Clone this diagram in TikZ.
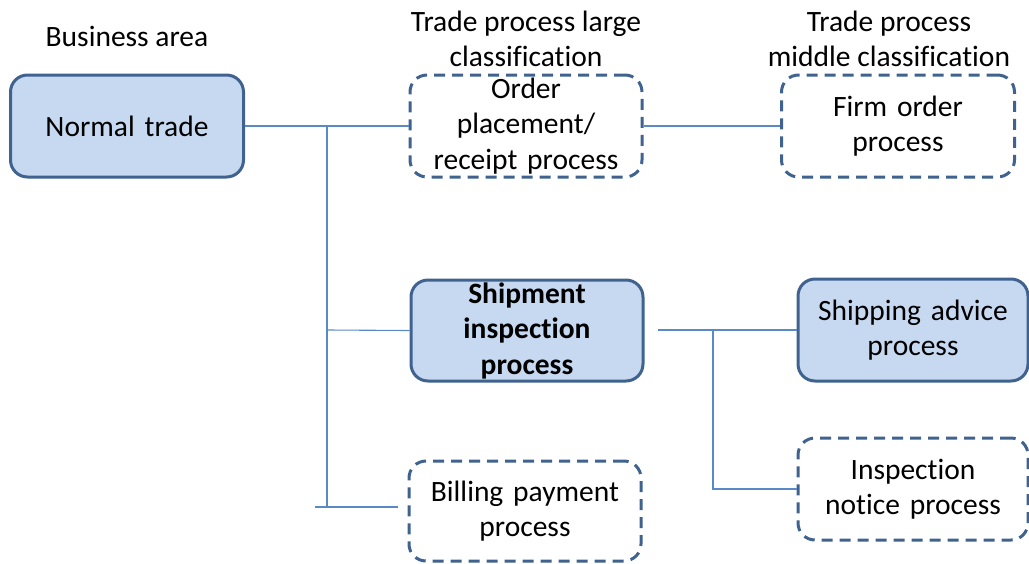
\documentclass[tikz,border=0pt]{standalone}
\usepackage{fontspec}
\setmainfont{Carlito}[Ligatures=NoCommon]
\definecolor{boxborder}{HTML}{3F628F}
\definecolor{boxfill}{HTML}{C6D9F1}
\definecolor{linkcol}{HTML}{5A8AC6}
\begin{document}
\begin{tikzpicture}[x=1pt,y=-1pt,
  base/.style={draw=boxborder,line width=3pt,rounded corners=17pt,align=center,inner sep=0pt,
    font=\fontsize{29.5}{35.5}\selectfont,text width=224pt},
  solidbox/.style={base,fill=boxfill},
  dashbox/.style={base,dash pattern=on 11pt off 7pt},
  link/.style={draw=linkcol,line width=1.1pt},
  header/.style={align=center,inner sep=0pt,font=\fontsize{29.5}{35.5}\selectfont}]
\useasboundingbox (0,0) rectangle (1029,563);
% headers
\node[header] (h1) at (127,36) {Business area};
\node[header] (h2) at (526,39) {Trade process large\\classification};
\node[header] (h3) at (889,39) {Trade process\\middle classification};
% boxes
\node[solidbox,minimum width=233pt,minimum height=102pt] (normal) at (127,126) {Normal trade};
\node[dashbox,minimum width=232pt,minimum height=102pt] (order) at (526,126) {Order\\placement/\\receipt process};
\node[dashbox,minimum width=233pt,minimum height=102pt] (firm) at (898,126) {Firm order\\process};
\node[solidbox,minimum width=232pt,minimum height=101pt,font=\fontsize{29.5}{35.5}\selectfont\bfseries] (ship) at (527,330.5) {Shipment\\inspection\\process};
\node[solidbox,minimum width=230pt,minimum height=102pt] (advice) at (913,330) {Shipping advice\\process};
\node[dashbox,minimum width=230pt,minimum height=102pt] (notice) at (913,489) {Inspection\\notice process};
\node[dashbox,minimum width=232pt,minimum height=100pt] (billing) at (525,511) {Billing payment\\process};
% junctions
\coordinate (j1) at (327,126);
\coordinate (j2) at (327,330);
\coordinate (j3) at (327,507);
\coordinate (b0) at (315,507);
\coordinate (b1) at (398,507);
\coordinate (s0) at (658,330);
\coordinate (k1) at (713,330);
\coordinate (k2) at (713,489);
% connectors
\draw[link] (normal.east) -- (order.west);
\draw[link] (j1) -- (j3);
\draw[link] (j2) -- (ship.west);
\draw[link] (b0) -- (b1);
\draw[link] (order.east) -- (firm.west);
\draw[link] (s0) -- (advice.west);
\draw[link] (k1) -- (k2) -- (notice.west);
\end{tikzpicture}
\end{document}
